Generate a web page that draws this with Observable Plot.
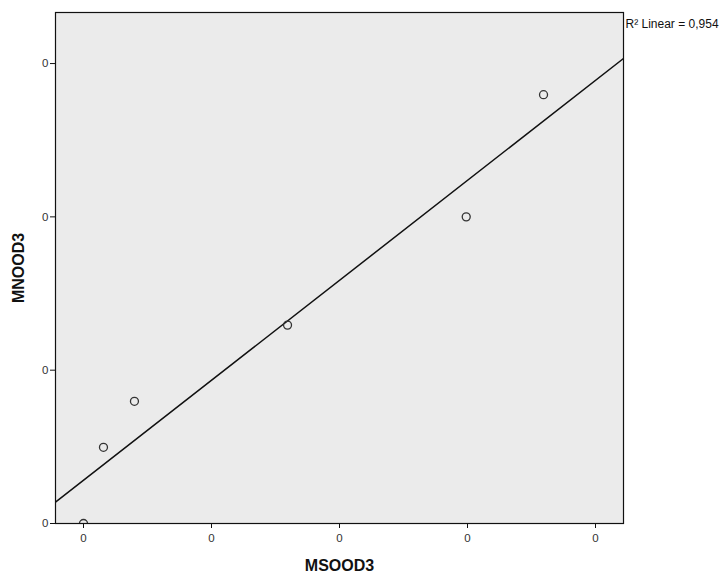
<!DOCTYPE html>
<html>
<head>
<meta charset="utf-8">
<script src="https://cdn.jsdelivr.net/npm/d3@7"></script>
<script src="https://cdn.jsdelivr.net/npm/@observablehq/plot@0.6"></script>
<style>
  html, body { margin: 0; padding: 0; background: #ffffff; }
  svg { font-family: "Liberation Sans", Arial, sans-serif; }
</style>
</head>
<body>
<div id="chart"></div>
<script>
const msood3 = [0, 0.156, 0.398, 1.594, 2.99, 3.594];
const mnood3 = [0, 0.497, 0.797, 1.294, 2.0, 2.797];
const xTicks = [0, 1, 2, 3, 4];
const xTickLabels = ["0", "0", "0", "0", "0"];
const yTicks = [0, 1, 2, 3];
const yTickLabels = ["0", "0", "0", "0"];
const xLabel = "MSOOD3";
const yLabel = "MNOOD3";
const xDomain = [-0.21875, 4.21875];
const yDomain = [0, 3.333];

const points = msood3.map((x, i) => ({x, y: mnood3[i]}));

// least squares fit
const mx = d3.mean(msood3), my = d3.mean(mnood3);
const sxy = d3.sum(points, d => (d.x - mx) * (d.y - my));
const sxx = d3.sum(points, d => (d.x - mx) ** 2);
const syy = d3.sum(points, d => (d.y - my) ** 2);
const slope = sxy / sxx;
const intercept = my - slope * mx;
const r2 = (sxy * sxy) / (sxx * syy);
const fitLine = xDomain.map(x => ({x, y: intercept + slope * x}));
const r2Label = "R\u00B2 Linear = " + r2.toFixed(3).replace(".", ",");

const chart = Plot.plot({
  width: 724,
  height: 575,
  marginLeft: 55,
  marginRight: 101,
  marginTop: 12,
  marginBottom: 52,
  style: {fontFamily: "'Liberation Sans', Arial, sans-serif", background: "#ffffff"},
  x: {domain: xDomain},
  y: {domain: yDomain},
  marks: [
    Plot.frame({fill: "#ebebeb", stroke: "none"}),
    Plot.line(fitLine, {x: "x", y: "y", stroke: "#111", strokeWidth: 1.5, clip: true}),
    Plot.dot(points, {x: "x", y: "y", r: 4, stroke: "#333", strokeWidth: 1.3, fill: "none", clip: true}),
    Plot.frame({stroke: "#111", strokeWidth: 1.2}),
    Plot.axisX({ticks: xTicks, tickFormat: (d, i) => xTickLabels[i], tickSize: 5, tickPadding: 5, fontSize: 11.5, fill: "#333", stroke: "#111", label: null}),
    Plot.axisY({ticks: yTicks, tickFormat: (d, i) => yTickLabels[i], tickSize: 5, tickPadding: 2, fontSize: 11.5, fill: "#333", stroke: "#111", label: null}),
    Plot.text([xLabel], {frameAnchor: "bottom", lineAnchor: "middle", dy: 42, fontWeight: "bold", fontSize: 16, fill: "#111"}),
    Plot.text([yLabel], {frameAnchor: "left", textAnchor: "middle", lineAnchor: "middle", dx: -37, rotate: -90, fontWeight: "bold", fontSize: 16, fill: "#111"}),
    Plot.text([r2Label], {frameAnchor: "top-right", textAnchor: "start", lineAnchor: "middle", dx: 2, dy: 12, fontSize: 12, fill: "#111"})
  ]
});
document.getElementById("chart").appendChild(chart);
</script>
</body>
</html>
